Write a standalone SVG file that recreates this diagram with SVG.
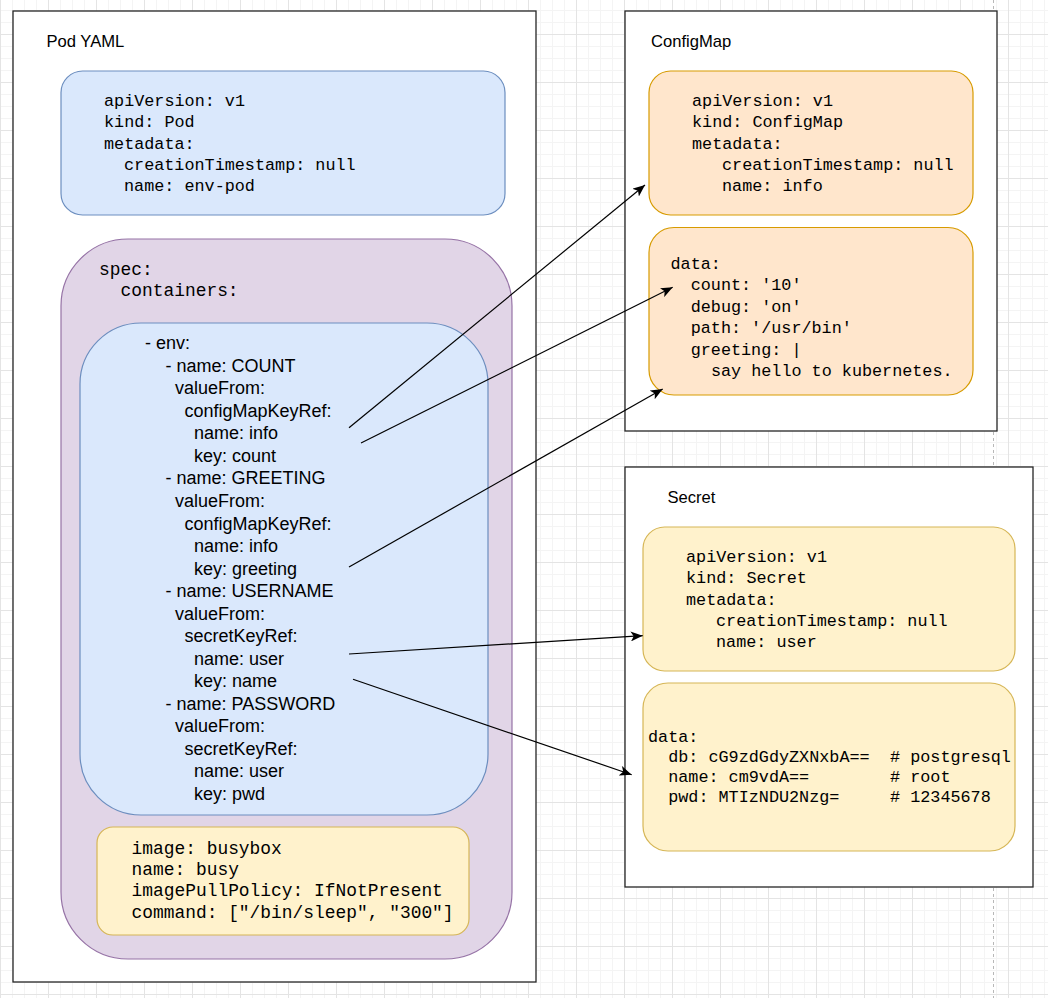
<svg xmlns="http://www.w3.org/2000/svg" width="1048" height="998" viewBox="0 0 1048 998">
<defs>
<pattern id="grid" patternUnits="userSpaceOnUse" x="0" y="34" width="48" height="48">
<rect x="0" y="0" width="48" height="48" fill="#ffffff"/>
<rect x="12" y="0" width="1" height="48" fill="#f4f4f4"/>
<rect x="24" y="0" width="1" height="48" fill="#f4f4f4"/>
<rect x="36" y="0" width="1" height="48" fill="#f4f4f4"/>
<rect x="0" y="12" width="48" height="1" fill="#f4f4f4"/>
<rect x="0" y="24" width="48" height="1" fill="#f4f4f4"/>
<rect x="0" y="36" width="48" height="1" fill="#f4f4f4"/>
<rect x="0" y="0" width="1" height="48" fill="#e4e4e4"/>
<rect x="0" y="0" width="48" height="1" fill="#e4e4e4"/>
</pattern>
<marker id="arrow" markerUnits="userSpaceOnUse" markerWidth="12" markerHeight="10" viewBox="0 0 12 10" refX="12" refY="5" orient="auto">
<path d="M0,0 L12,5 L0,10 L3,5 Z" fill="#000000"/>
</marker>
</defs>
<style>
.frame{fill:#ffffff;stroke:#262626;stroke-width:1.3}
.title{font-family:"Liberation Sans",Arial,sans-serif;font-size:16.6px;fill:#000000}
.mono{font-family:"Liberation Mono","Courier New",monospace;font-size:16.8px;fill:#000000}
.mono18{font-family:"Liberation Mono","Courier New",monospace;font-size:17.9px;fill:#000000}
.sans{font-family:"Liberation Sans",Arial,sans-serif;font-size:18px;fill:#000000}
.blue{fill:#dae8fc;stroke:#6c8ebf;stroke-width:1.2}
.purple{fill:#e1d5e7;stroke:#9673a6;stroke-width:1.2}
.orange{fill:#ffe6cc;stroke:#d79b00;stroke-width:1.2}
.yellow{fill:#fff2cc;stroke:#d6b656;stroke-width:1.2}
.edge{fill:none;stroke:#000000;stroke-width:1.2;marker-end:url(#arrow)}
</style>
<rect x="0" y="0" width="1048" height="998" fill="url(#grid)"/>
<line x1="993.5" y1="0" x2="993.5" y2="998" stroke="#b8b8b8" stroke-width="1" stroke-dasharray="3 3"/>

<g id="pod-yaml">
<rect class="frame" x="13" y="11" width="523" height="971"/>
<text class="title" x="46.5" y="47">Pod YAML</text>
</g>

<g id="pod-metadata">
<rect class="blue" x="61" y="71" width="444" height="144" rx="21.6"/>
<text class="mono" x="104" y="106">apiVersion: v1</text>
<text class="mono" x="104" y="127.3">kind: Pod</text>
<text class="mono" x="104" y="148.6">metadata:</text>
<text class="mono" x="124" y="169.9">creationTimestamp: null</text>
<text class="mono" x="124" y="191.2">name: env-pod</text>
</g>

<g id="pod-spec">
<rect class="purple" x="61" y="239" width="451" height="720" rx="67"/>
<text class="mono18" x="99" y="275">spec:</text>
<text class="mono18" x="120.5" y="295.8">containers:</text>
</g>

<g id="pod-env">
<rect class="blue" x="80" y="323" width="408" height="492" rx="61"/>
<text class="sans" x="145" y="349.2">- env:</text>
<text class="sans" x="165.5" y="371.7">- name: COUNT</text>
<text class="sans" x="175" y="394.2">valueFrom:</text>
<text class="sans" x="184.5" y="416.8">configMapKeyRef:</text>
<text class="sans" x="194" y="439.3">name: info</text>
<text class="sans" x="194" y="461.9">key: count</text>
<text class="sans" x="165.5" y="484.4">- name: GREETING</text>
<text class="sans" x="175" y="506.9">valueFrom:</text>
<text class="sans" x="184.5" y="529.5">configMapKeyRef:</text>
<text class="sans" x="194" y="552">name: info</text>
<text class="sans" x="194" y="574.5">key: greeting</text>
<text class="sans" x="165.5" y="597">- name: USERNAME</text>
<text class="sans" x="175" y="619.6">valueFrom:</text>
<text class="sans" x="184.5" y="642.1">secretKeyRef:</text>
<text class="sans" x="194" y="664.7">name: user</text>
<text class="sans" x="194" y="687.2">key: name</text>
<text class="sans" x="165.5" y="709.7">- name: PASSWORD</text>
<text class="sans" x="175" y="732.3">valueFrom:</text>
<text class="sans" x="184.5" y="754.8">secretKeyRef:</text>
<text class="sans" x="194" y="777.3">name: user</text>
<text class="sans" x="194" y="799.9">key: pwd</text>
</g>

<g id="pod-container">
<rect class="yellow" x="97" y="827" width="372" height="108" rx="16"/>
<text class="mono18" x="131.5" y="853.5">image: busybox</text>
<text class="mono18" x="131.5" y="874.9">name: busy</text>
<text class="mono18" x="131.5" y="896.3">imagePullPolicy: IfNotPresent</text>
<text class="mono18" x="131.5" y="917.7">command: ["/bin/sleep", "300"]</text>
</g>

<g id="configmap">
<rect class="frame" x="625" y="11" width="372" height="420"/>
<text class="title" x="651" y="47">ConfigMap</text>
</g>

<g id="configmap-metadata">
<rect class="orange" x="649" y="71" width="324" height="144" rx="21.6"/>
<text class="mono" x="692" y="106">apiVersion: v1</text>
<text class="mono" x="692" y="127.3">kind: ConfigMap</text>
<text class="mono" x="692" y="148.6">metadata:</text>
<text class="mono" x="722" y="169.9">creationTimestamp: null</text>
<text class="mono" x="722" y="191.2">name: info</text>
</g>

<g id="configmap-data">
<rect class="orange" x="649" y="227.5" width="324" height="167.5" rx="25"/>
<text class="mono" x="670.5" y="269">data:</text>
<text class="mono" x="690.7" y="290.4">count: '10'</text>
<text class="mono" x="690.7" y="311.8">debug: 'on'</text>
<text class="mono" x="690.7" y="333.2">path: '/usr/bin'</text>
<text class="mono" x="690.7" y="354.6">greeting: |</text>
<text class="mono" x="710.9" y="376">say hello to kubernetes.</text>
</g>

<g id="secret">
<rect class="frame" x="625" y="467" width="408" height="420"/>
<text class="title" x="667.5" y="503">Secret</text>
</g>

<g id="secret-metadata">
<rect class="yellow" x="643" y="527" width="372" height="144" rx="21.6"/>
<text class="mono" x="686" y="562">apiVersion: v1</text>
<text class="mono" x="686" y="583.3">kind: Secret</text>
<text class="mono" x="686" y="604.6">metadata:</text>
<text class="mono" x="716" y="625.9">creationTimestamp: null</text>
<text class="mono" x="716" y="647.2">name: user</text>
</g>

<g id="secret-data">
<rect class="yellow" x="643" y="683" width="372" height="168" rx="25"/>
<text class="mono" x="648" y="742">data:</text>
<text class="mono" x="668.2" y="762">db: cG9zdGdyZXNxbA==<tspan x="890">#</tspan><tspan x="910.2">postgresql</tspan></text>
<text class="mono" x="668.2" y="782">name: cm9vdA==<tspan x="890">#</tspan><tspan x="910.2">root</tspan></text>
<text class="mono" x="668.2" y="802.3">pwd: MTIzNDU2Nzg=<tspan x="890">#</tspan><tspan x="910.2">12345678</tspan></text>
</g>

<g id="connectors">
<line class="edge" x1="349" y1="427.7" x2="645" y2="185"/>
<line class="edge" x1="361" y1="443" x2="672.7" y2="287.3"/>
<line class="edge" x1="349" y1="567" x2="662.7" y2="389"/>
<line class="edge" x1="349" y1="654" x2="642.7" y2="635.7"/>
<line class="edge" x1="353" y1="679.3" x2="631.7" y2="774.7"/>
</g>
</svg>
